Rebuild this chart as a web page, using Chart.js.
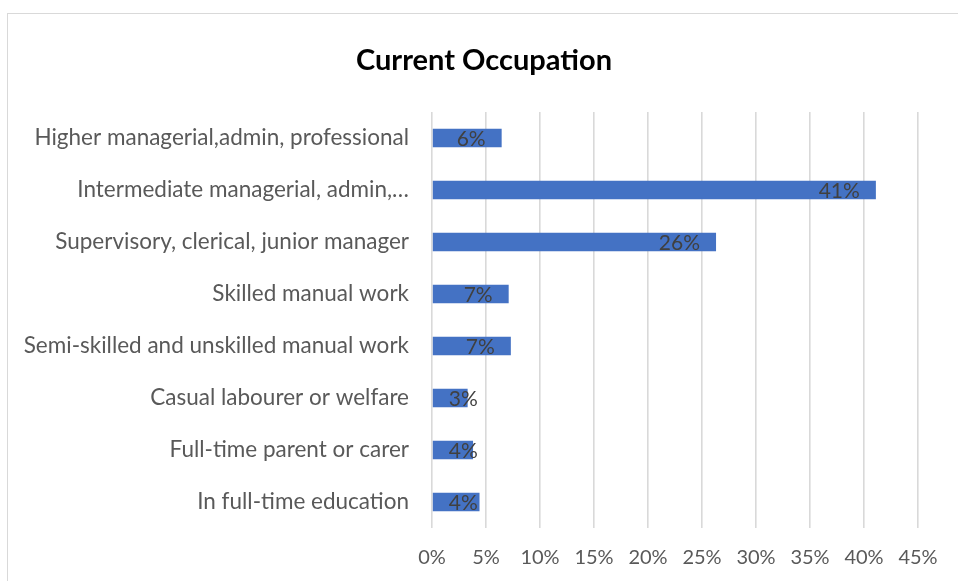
<!DOCTYPE html>
<html>
<head>
<meta charset="utf-8">
<script src="https://cdn.jsdelivr.net/npm/chart.js@4.4.0/dist/chart.umd.min.js"></script>
<style>
  html, body { margin: 0; padding: 0; background: #fff; }
  #frame { position: absolute; left: 7px; top: 13px; right: 0; bottom: 0;
           border-left: 1px solid #d9d9d9; border-top: 1px solid #d9d9d9; }
  #wrap { position: absolute; left: 0; top: 0; width: 958px; height: 581px; }
</style>
</head>
<body>
<div id="frame"></div>
<div id="wrap"><canvas id="occChart" width="958" height="581"></canvas></div>
<script>
// categories and values (percent)
const occupations = [
  'Higher managerial,admin, professional',
  'Intermediate managerial, admin,\u2026',
  'Supervisory, clerical, junior manager',
  'Skilled manual work',
  'Semi-skilled and unskilled manual work',
  'Casual labourer or welfare',
  'Full-time parent or carer',
  'In full-time education'
];
const shares = [6.45, 41.1, 26.3, 7.1, 7.3, 3.3, 3.8, 4.4];
const xTicks = [0, 5, 10, 15, 20, 25, 30, 35, 40, 45];
const chartTitle = 'Current Occupation';

const FONT = 'Lato, "Open Sans", sans-serif';

/***** title, centred where excel puts it *****/
const titlePlugin = {
  id: 'titlePlugin',
  afterDraw(chart) {
    const ctx = chart.ctx;
    ctx.save();
    ctx.font = 'bold 29px ' + FONT;
    ctx.fillStyle = '#000';
    ctx.textAlign = 'center';
    ctx.textBaseline = 'alphabetic';
    ctx.fillText(chartTitle, 484, 70);
    ctx.restore();
  }
};

/***** data labels: inside end, like excel *****/
const barLabels = {
  id: 'barLabels',
  afterDatasetsDraw(chart) {
    const ctx = chart.ctx;
    const meta = chart.getDatasetMeta(0);
    ctx.save();
    ctx.font = '21px ' + FONT;
    ctx.fillStyle = '#404040';
    ctx.textBaseline = 'middle';
    ctx.textAlign = 'left';
    meta.data.forEach((bar, i) => {
      const txt = Math.round(shares[i]) + '%';
      const w = ctx.measureText(txt).width;
      const left = Math.max(bar.x - 16 - w, bar.base + 16);
      ctx.fillText(txt, left, bar.y + 1);
    });
    ctx.restore();
  }
};

const data = {
  labels: occupations,
  datasets: [{
    data: shares,
    backgroundColor: '#4472c4',
    borderWidth: 0,
    categoryPercentage: 1,
    barPercentage: 0.36
  }]
};

const config = {
  type: 'bar',
  data: data,
  plugins: [barLabels, titlePlugin],
  options: {
    indexAxis: 'y',
    responsive: false,
    animation: false,
    layout: { padding: { left: 0, right: 40, top: 112, bottom: 0 } },
    plugins: {
      legend: { display: false },
      tooltip: { enabled: false },
      title: { display: false }
    },
    scales: {
      x: {
        min: 0,
        max: 45,
        afterBuildTicks(scale) { scale.ticks = xTicks.map(v => ({ value: v })); },
        afterFit(scale) { scale.height = 53; },
        grid: { color: '#d9d9d9', lineWidth: 1.6, drawTicks: false },
        border: { display: false },
        ticks: {
          padding: 18,
          color: '#595959',
          font: { family: FONT, size: 20 },
          callback: v => v + '%'
        }
      },
      y: {
        afterFit(scale) { scale.width = 432; },
        grid: { display: false, drawTicks: false },
        border: { display: false },
        ticks: {
          padding: 23,
          color: '#595959',
          font: { family: FONT, size: 22.5 }
        }
      }
    }
  }
};

const myChart = new Chart(document.getElementById('occChart'), config);
</script>
</body>
</html>
